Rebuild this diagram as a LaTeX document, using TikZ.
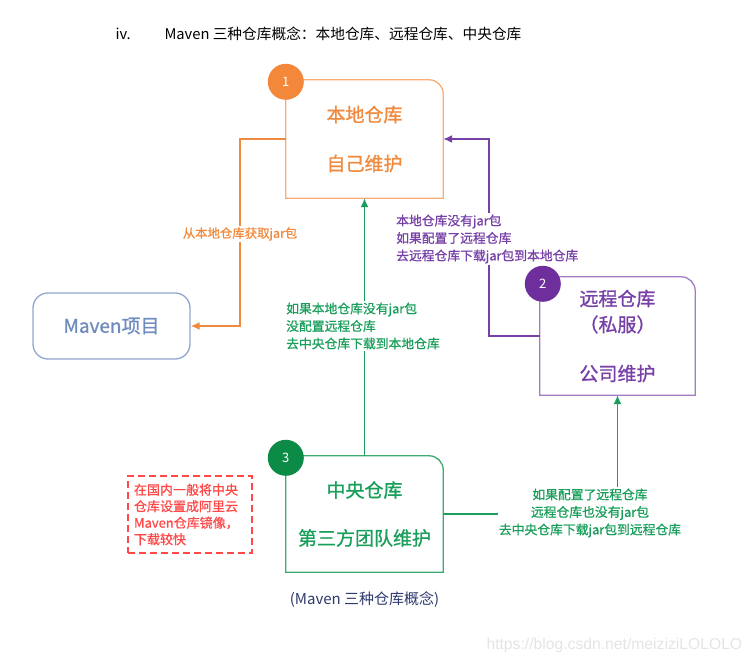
\documentclass[tikz,border=0pt]{standalone}
\usepackage{fontspec}
\setmainfont{Noto Sans CJK SC}
\newfontfamily\boxfont[FakeBold=1]{Noto Sans CJK SC}
\newfontfamily\labelfont[FakeBold=0.8]{Noto Sans CJK SC}
\newfontfamily\markfont{Liberation Sans}
\usetikzlibrary{positioning, arrows.meta}
\definecolor{localtext}{HTML}{F08A3E}
\definecolor{localedge}{HTML}{F6AD76}
\definecolor{localdot}{HTML}{F3873A}
\definecolor{remotetext}{HTML}{7640A6}
\definecolor{remoteedge}{HTML}{A07CC6}
\definecolor{remotedot}{HTML}{6E2E9C}
\definecolor{centraltext}{HTML}{1A9E5B}
\definecolor{centraledge}{HTML}{3FAA70}
\definecolor{centraldot}{HTML}{0B8B46}
\definecolor{mavenedge}{HTML}{90A8CC}
\definecolor{maventext}{HTML}{6E8CBE}
\definecolor{notered}{HTML}{FF4848}
\definecolor{captionblue}{HTML}{2E3A6E}
\definecolor{watermark}{HTML}{E4E4E4}
\tikzset{%
  repo box/.style={
    draw=none,
    minimum width=157pt,
    minimum height=118pt,
    align=center,
    font=\boxfont\fontsize{19}{26}\selectfont
  },
  repo edge/.style={
    line width=1.3pt
  },
  repo badge/.style={
    circle,
    minimum size=36pt,
    inner sep=0pt,
    text=white,
    font=\fontsize{13}{13}\selectfont
  },
  path label/.style={
    align=left,
    inner sep=1pt,
    font=\labelfont\fontsize{12.8}{17.5}\selectfont
  },
  path line/.style={
    line width=1.5pt
  },
}

\begin{document}
\begin{tikzpicture}[x=1pt, y=1pt, >={Latex[length=9pt,width=8pt]}]
\useasboundingbox (0,0) rectangle (750,-663);

\node [anchor=west, font=\fontsize{14.7}{16}\selectfont] (item) at (112,-34) {iv.};
\node [anchor=west, font=\fontsize{14.7}{16}\selectfont] (heading) at (161,-34)
  {Maven 三种仓库概念：本地仓库、远程仓库、中央仓库};

\node [repo box, text=localtext] (local) at (364.5,-139) {本地仓库\\[23pt]自己维护};
\node [repo box, text=remotetext, minimum width=155pt] (remote) at (617.5,-336)
  {远程仓库\\（私服）\\[23pt]公司维护};
\node [repo box, text=centraltext, minimum height=116pt] (central) at (364.5,-514)
  {中央仓库\\[22pt]第三方团队维护};
\node [draw=mavenedge, line width=1.3pt, rounded corners=15pt, minimum width=157pt,
  minimum height=66pt, text=maventext, font=\boxfont\fontsize{19}{19}\selectfont] (maven)
  at (111.5,-326) {Maven项目};

\foreach \repo in {local, remote, central}
  \draw [repo edge, draw=\repo edge] (\repo.south west) -- (\repo.north west)
    -- ([xshift=-14pt]\repo.north east) arc [start angle=90, end angle=0, radius=14pt]
    -- (\repo.south east) -- cycle;

\foreach \n/\repo/\dx/\dy in {1/local/0/-2, 2/remote/3/-7, 3/central/0/-2}
  \node [repo badge, fill=\repo dot] (badge-\n) at ([shift={(\dx,\dy)}]\repo.north west) {\n};

% local -> maven
\node [path label, text=localtext, font=\labelfont\fontsize{12.4}{17.5}\selectfont]
  (fetch) at (240,-234) {从本地仓库获取jar包};
\draw [path line, localtext] (local.west) -| (fetch.north);
\draw [path line, localtext, ->] (fetch.south) |- (maven.east);

% central -> local
\node [path label, text=centraltext, anchor=west] (nocfg) at (285,-326)
  {如果本地仓库没有jar包\\没配置远程仓库\\去中央仓库下载到本地仓库};
\draw [path line, centraltext] (central.north) -- (nocfg.south -| central.north);
\draw [path line, centraltext, ->] (nocfg.north -| central.north) -- (local.south);

% remote -> local
\coordinate (climb) at (489,-139);
\node [path label, text=remotetext, anchor=west] (viaremote) at (395,-239)
  {本地仓库没有jar包\\如果配置了远程仓库\\去远程仓库下载jar包到本地仓库};
\draw [path line, remotetext] (remote.west) -| (viaremote.south -| climb);
\draw [path line, remotetext, ->] (viaremote.north -| climb) |- (local.east);

% central -> remote
\node [path label, text=centraltext, align=center] (mirror) at (590,-513)
  {如果配置了远程仓库\\远程仓库也没有jar包\\去中央仓库下载jar包到远程仓库};
\draw [path line, centraltext] (central.east) -- (central.east -| mirror.west);
\draw [path line, centraltext, ->] (mirror.north -| remote.south) -- (remote.south);

\node [draw=notered, dashed, dash pattern=on 7pt off 4pt, line width=1.2pt, text=notered,
  align=left, text width=112pt, inner xsep=6pt, minimum height=77pt,
  font=\labelfont\fontsize{13}{16.5}\selectfont] (tip) at (190,-514.5)
  {在国内一般将中央\\仓库设置成阿里云\\Maven仓库镜像，\\下载较快};

\node [text=captionblue, font=\fontsize{15}{16}\selectfont] (caption) at (364.5,-600)
  {(Maven 三种仓库概念)};
\node [anchor=west, text=watermark, font=\markfont\fontsize{15.7}{16}\selectfont] (stamp)
  at (483,-645) {https://blog.csdn.net/meiziziLOLOLO};
\end{tikzpicture}
\end{document}
